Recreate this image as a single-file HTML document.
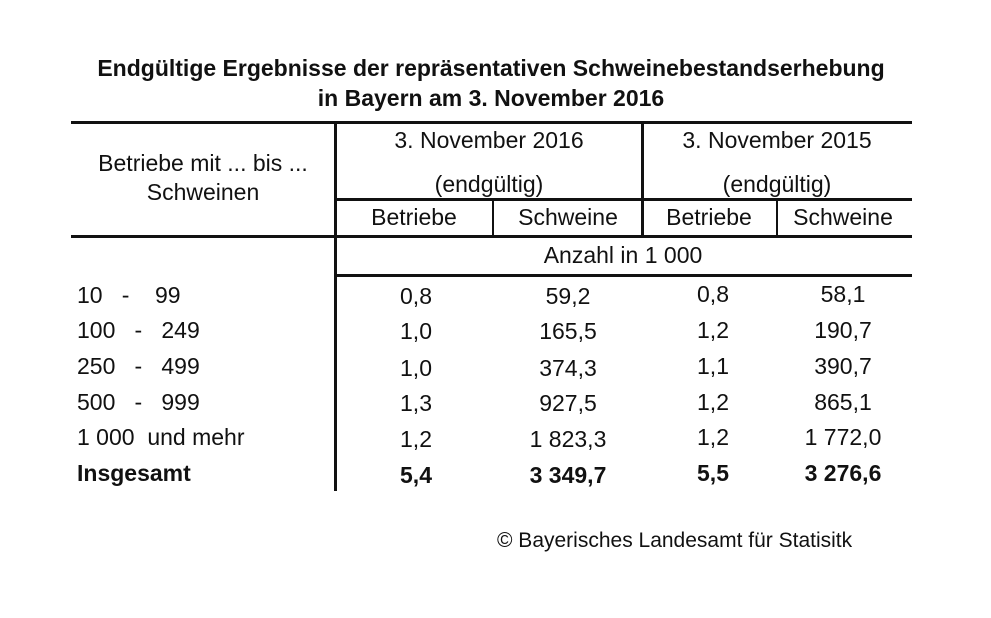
<!DOCTYPE html>
<html><head><meta charset="utf-8"><style>
body{margin:0;background:#fff;width:991px;height:618px;position:relative;overflow:hidden;font-family:"Liberation Sans",Arial,sans-serif;color:#111}
.t{position:absolute;white-space:nowrap;font-size:23px;line-height:1}
.c{transform:translateX(-50%)}
.b{font-weight:bold}
.h{position:absolute;background:#111}
</style></head><body>
<div class="t b c" style="left:491px;top:57px;font-size:23px">Endgültige Ergebnisse der repräsentativen Schweinebestandserhebung</div>
<div class="t b c" style="left:491px;top:87px;font-size:23px">in Bayern am 3. November 2016</div>

<div class="h" style="left:71px;top:121px;width:841px;height:3px"></div>
<div class="h" style="left:336px;top:198px;width:576px;height:3px"></div>
<div class="h" style="left:71px;top:235px;width:841px;height:3px"></div>
<div class="h" style="left:336px;top:274px;width:576px;height:3px"></div>
<div class="h" style="left:334px;top:121px;width:3px;height:370px"></div>
<div class="h" style="left:641px;top:121px;width:3px;height:117px"></div>
<div class="h" style="left:492px;top:199px;width:2px;height:38px"></div>
<div class="h" style="left:776px;top:199px;width:2px;height:38px"></div>

<div class="t c" style="left:203px;top:152px">Betriebe mit ... bis ...</div>
<div class="t c" style="left:203px;top:181px">Schweinen</div>
<div class="t c" style="left:489px;top:129px">3. November 2016</div>
<div class="t c" style="left:489px;top:173px">(endgültig)</div>
<div class="t c" style="left:777px;top:129px">3. November 2015</div>
<div class="t c" style="left:777px;top:173px">(endgültig)</div>
<div class="t c" style="left:414px;top:206px">Betriebe</div>
<div class="t c" style="left:568px;top:206px">Schweine</div>
<div class="t c" style="left:709px;top:206px">Betriebe</div>
<div class="t c" style="left:843px;top:206px">Schweine</div>
<div class="t c" style="left:623px;top:244px">Anzahl in 1 000</div>

<div class="t" style="left:77px;top:284px">10&nbsp;&nbsp;&nbsp;-&nbsp;&nbsp;&nbsp;&nbsp;99</div>
<div class="t" style="left:77px;top:319px">100&nbsp;&nbsp;&nbsp;-&nbsp;&nbsp;&nbsp;249</div>
<div class="t" style="left:77px;top:355px">250&nbsp;&nbsp;&nbsp;-&nbsp;&nbsp;&nbsp;499</div>
<div class="t" style="left:77px;top:391px">500&nbsp;&nbsp;&nbsp;-&nbsp;&nbsp;&nbsp;999</div>
<div class="t" style="left:77px;top:426px">1 000&nbsp;&nbsp;und mehr</div>
<div class="t b" style="left:77px;top:462px">Insgesamt</div>

<div class="t c" style="left:416px;top:285px">0,8</div>
<div class="t c" style="left:416px;top:320px">1,0</div>
<div class="t c" style="left:416px;top:357px">1,0</div>
<div class="t c" style="left:416px;top:392px">1,3</div>
<div class="t c" style="left:416px;top:428px">1,2</div>
<div class="t c b" style="left:416px;top:464px">5,4</div>

<div class="t c" style="left:568px;top:285px">59,2</div>
<div class="t c" style="left:568px;top:320px">165,5</div>
<div class="t c" style="left:568px;top:357px">374,3</div>
<div class="t c" style="left:568px;top:392px">927,5</div>
<div class="t c" style="left:568px;top:428px">1 823,3</div>
<div class="t c b" style="left:568px;top:464px">3 349,7</div>

<div class="t c" style="left:713px;top:283px">0,8</div>
<div class="t c" style="left:713px;top:319px">1,2</div>
<div class="t c" style="left:713px;top:355px">1,1</div>
<div class="t c" style="left:713px;top:391px">1,2</div>
<div class="t c" style="left:713px;top:426px">1,2</div>
<div class="t c b" style="left:713px;top:462px">5,5</div>

<div class="t c" style="left:843px;top:283px">58,1</div>
<div class="t c" style="left:843px;top:319px">190,7</div>
<div class="t c" style="left:843px;top:355px">390,7</div>
<div class="t c" style="left:843px;top:391px">865,1</div>
<div class="t c" style="left:843px;top:426px">1 772,0</div>
<div class="t c b" style="left:843px;top:462px">3 276,6</div>

<div class="t" style="left:497px;top:530px;font-size:21px">© Bayerisches Landesamt für Statisitk</div>
</body></html>
